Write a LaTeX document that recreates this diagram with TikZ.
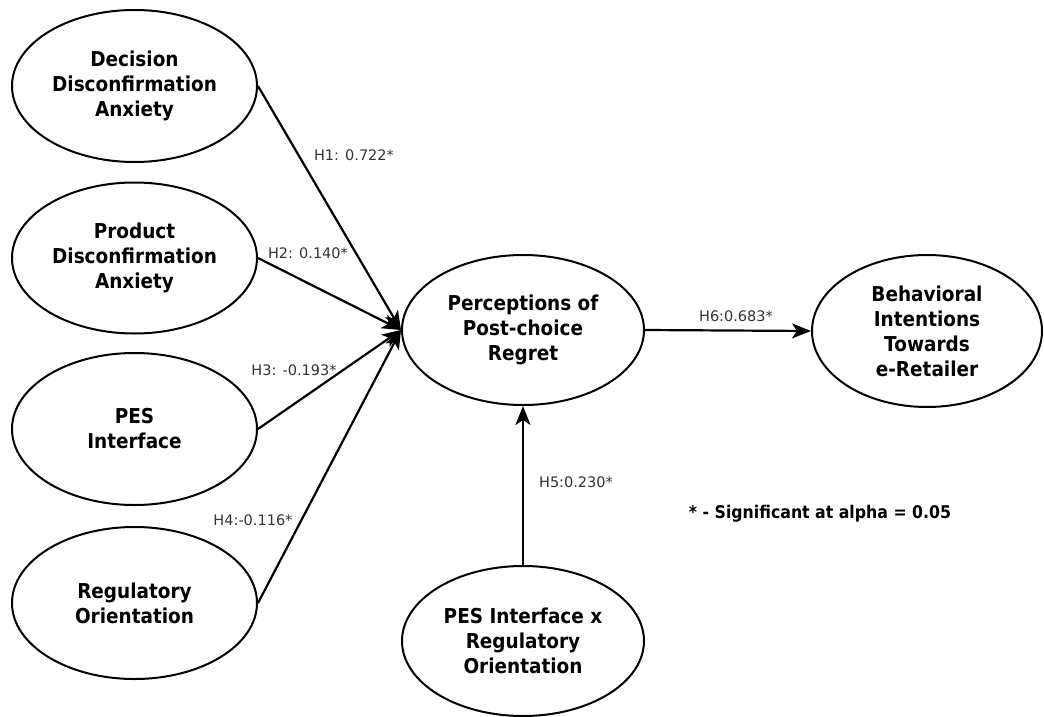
\documentclass[tikz,border=0pt]{standalone}
\usepackage{fontspec}
\setmainfont{DejaVu Sans}
\newfontfamily\boxfont[FakeStretch=0.9]{DejaVu Sans}
\usetikzlibrary{shapes.geometric,arrows.meta}
\tikzset{
  latent/.style={ellipse, draw=black, line width=2pt, inner sep=0pt, align=center,
    font=\boxfont\bfseries\fontsize{20.5}{25}\selectfont, text=black},
  path/.style={line width=2.2pt, -{Stealth[length=19pt,width=15pt,inset=5pt]}},
  lbl/.style={font=\fontsize{14.5}{17}\selectfont, text=black!80, inner sep=0pt},
}
\begin{document}
\begin{tikzpicture}[x=1pt,y=-1pt]
\useasboundingbox (0,0) rectangle (1044,717);
\node[latent, minimum width=245pt, minimum height=152pt] (dda) at (134.5,86) {Decision\\Disconfirmation\\Anxiety};
\node[latent, minimum width=245pt, minimum height=151pt] (pda) at (134.5,258) {Product\\Disconfirmation\\Anxiety};
\node[latent, minimum width=245pt, minimum height=152pt] (pes) at (134.5,429) {PES\\Interface};
\node[latent, minimum width=245pt, minimum height=152pt] (reg) at (134.5,603) {Regulatory\\Orientation};
\node[latent, minimum width=242pt, minimum height=150pt] (ppr) at (523,330) {Perceptions of\\Post-choice\\Regret};
\node[latent, minimum width=230pt, minimum height=152pt] (bit) at (927,331) {Behavioral\\Intentions\\Towards\\e-Retailer};
\node[latent, minimum width=242pt, minimum height=150pt] (int) at (523,641) {PES Interface x\\Regulatory\\Orientation};

\draw[path] (dda.east) -- (ppr.west);
\draw[path] (pda.east) -- (ppr.west);
\draw[path] (pes.east) -- (ppr.west);
\draw[path] (reg.east) -- (ppr.west);
\draw[path] (int.north) -- (ppr.south);
\draw[path] (ppr.east) -- (bit.west);

\node[lbl] (l1) at (354,155) {H1: 0.722*};
\node[lbl] (l2) at (308,253) {H2: 0.140*};
\node[lbl] (l3) at (294,370) {H3: -0.193*};
\node[lbl] (l4) at (253,520) {H4:-0.116*};
\node[lbl] (l5) at (576,482) {H5:0.230*};
\node[lbl] (l6) at (736,316) {H6:0.683*};
\node[font=\boxfont\bfseries\fontsize{17.5}{20}\selectfont, text=black, inner sep=0pt] (leg) at (820,514) {* - Significant at alpha = 0.05};
\end{tikzpicture}
\end{document}
